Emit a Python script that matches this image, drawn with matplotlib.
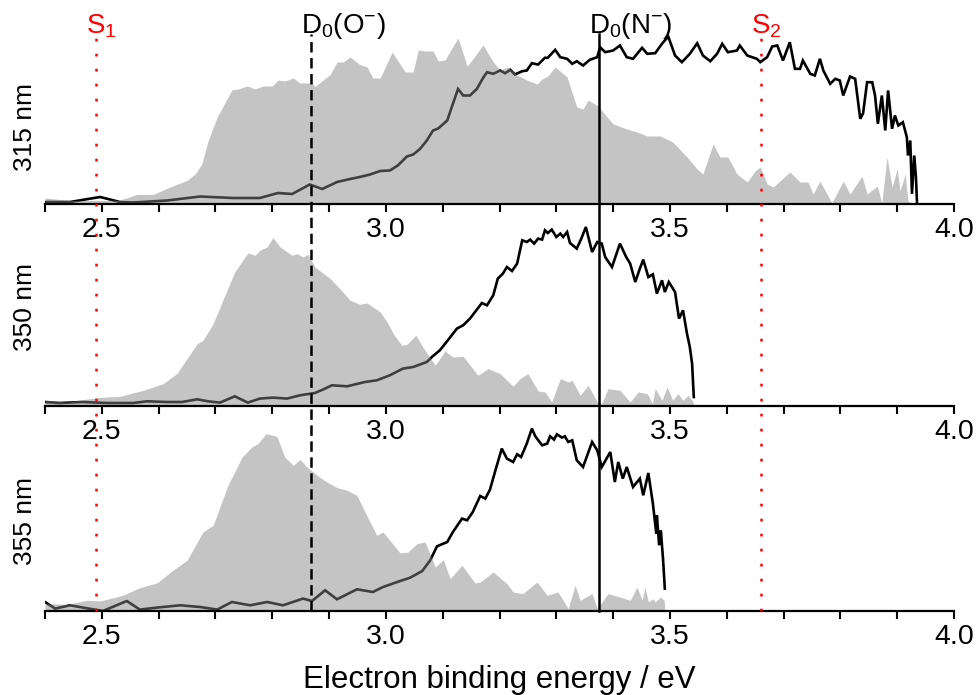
import numpy as np
import matplotlib
matplotlib.use("Agg")
import matplotlib.pyplot as plt
import matplotlib.transforms as mtransforms

plt.rcParams['font.family'] = ['Liberation Sans', 'DejaVu Sans']
plt.rcParams['mathtext.fontset'] = 'custom'
plt.rcParams['mathtext.rm'] = 'Liberation Sans'
plt.rcParams['mathtext.it'] = 'Liberation Sans:italic'
plt.rcParams['mathtext.bf'] = 'Liberation Sans:bold'
plt.rcParams['lines.scale_dashes'] = False

# ---------------- data (binding energy in eV, intensity in arb. units) ----------------
wavelengths = ["315 nm", "350 nm", "355 nm"]

grey_e_315 = [2.400, 2.444, 2.497, 2.532, 2.562, 2.590, 2.620, 2.650, 2.664, 2.676, 2.687, 2.703, 2.729, 2.740, 2.756, 2.770, 2.784, 2.800, 2.810, 2.822, 2.837, 2.849, 2.870, 2.875, 2.902, 2.914, 2.925, 2.937, 2.954, 2.967, 2.977, 2.990, 3.011, 3.034, 3.048, 3.057, 3.069, 3.083, 3.092, 3.104, 3.127, 3.143, 3.153, 3.171, 3.189, 3.201, 3.215, 3.231, 3.248, 3.266, 3.275, 3.285, 3.298, 3.319, 3.336, 3.347, 3.356, 3.373, 3.400, 3.424, 3.442, 3.460, 3.483, 3.505, 3.530, 3.548, 3.558, 3.576, 3.588, 3.602, 3.618, 3.636, 3.650, 3.659, 3.671, 3.682, 3.711, 3.729, 3.743, 3.752, 3.764, 3.785, 3.805, 3.817, 3.838, 3.847, 3.865, 3.873, 3.882, 3.891, 3.900, 3.905, 3.914, 3.919, 3.926]
grey_i_315 = [6, 3.5, 3.5, 4, 9.5, 9.5, 17, 23.5, 30, 40, 63, 87, 114, 115, 118, 115, 118, 118, 124, 123, 126, 121, 121, 117.5, 129.5, 142, 142, 147, 139.5, 137, 126, 126, 152, 132, 132, 154, 153, 153, 143, 144, 166, 138, 145, 159, 142, 134, 137, 129, 124, 120, 125, 128, 137, 127, 97, 95, 104, 98, 80, 75, 72, 68, 68, 62, 47, 35, 30, 60, 47, 47, 30, 22, 33, 37, 20, 17, 32, 22, 22, 10, 23, 1, 23, 10, 28, 10, 18, 1, 47, 17, 35, 13, 30, 3, 0]

black_e_315 = [2.400, 2.444, 2.497, 2.532, 2.555, 2.615, 2.673, 2.731, 2.778, 2.810, 2.835, 2.866, 2.888, 2.914, 2.937, 2.954, 2.972, 2.990, 3.007, 3.021, 3.037, 3.048, 3.060, 3.072, 3.083, 3.092, 3.108, 3.116, 3.127, 3.136, 3.148, 3.160, 3.171, 3.178, 3.189, 3.201, 3.210, 3.219, 3.227, 3.240, 3.248, 3.257, 3.268, 3.280, 3.285, 3.298, 3.307, 3.319, 3.328, 3.336, 3.347, 3.359, 3.372, 3.377, 3.386, 3.400, 3.412, 3.424, 3.435, 3.451, 3.460, 3.474, 3.486, 3.497, 3.509, 3.521, 3.535, 3.548, 3.558, 3.571, 3.583, 3.592, 3.602, 3.618, 3.623, 3.636, 3.653, 3.659, 3.671, 3.680, 3.689, 3.699, 3.711, 3.720, 3.729, 3.734, 3.747, 3.755, 3.764, 3.770, 3.782, 3.791, 3.799, 3.805, 3.817, 3.826, 3.835, 3.840, 3.847, 3.856, 3.861, 3.866, 3.873, 3.879, 3.884, 3.891, 3.896, 3.902, 3.910, 3.917, 3.919, 3.923, 3.926, 3.930, 3.933, 3.935]
black_i_315 = [2, 2, 7, 2, 1.5, 3.5, 7.5, 6, 6, 11, 10, 19.5, 15, 22, 25, 27, 29.5, 33, 33.5, 38.5, 47.5, 49.5, 55, 63.5, 73.5, 75.5, 83.5, 97, 115, 108.5, 108.5, 115, 126, 131.8, 130.2, 133.5, 130.8, 134.2, 129.5, 132.8, 133.5, 140.8, 139.5, 146.2, 146.2, 154.2, 146.8, 145.2, 140.2, 142.8, 138.5, 144.2, 146.8, 156.8, 151.8, 153.5, 158.5, 146.8, 145.2, 156.2, 150.2, 150.8, 160.2, 167.5, 148.5, 141.8, 150.2, 160.8, 148.5, 142.8, 150.2, 160.2, 151.8, 153.5, 158.5, 148.5, 145.2, 141.8, 146.8, 157.5, 158.5, 143.5, 161.8, 135.2, 135.2, 143.5, 130.2, 128.5, 145.2, 133.5, 120.2, 125.2, 123.5, 108.5, 127.5, 125.2, 85.2, 90.8, 121.8, 121.8, 108.5, 80.2, 108.5, 73.5, 113.5, 75.2, 88.5, 78.5, 81.8, 66.8, 48.5, 63.5, 10.2, 48.5, 26.8, 0]

grey_e_350 = [2.400, 2.439, 2.492, 2.532, 2.573, 2.608, 2.632, 2.668, 2.678, 2.696, 2.713, 2.734, 2.757, 2.770, 2.778, 2.791, 2.801, 2.814, 2.822, 2.835, 2.844, 2.854, 2.863, 2.875, 2.902, 2.919, 2.937, 2.954, 2.967, 2.990, 3.002, 3.013, 3.028, 3.037, 3.053, 3.065, 3.087, 3.104, 3.118, 3.136, 3.162, 3.180, 3.201, 3.224, 3.236, 3.250, 3.268, 3.280, 3.292, 3.307, 3.321, 3.328, 3.342, 3.356, 3.372, 3.380, 3.391, 3.412, 3.430, 3.444, 3.460, 3.469, 3.474, 3.486, 3.495, 3.505, 3.514, 3.523, 3.532, 3.541, 3.542]
grey_i_350 = [5.7, 4, 8.4, 9.7, 15.7, 22.4, 32.4, 62.4, 65.7, 82.4, 105.7, 134, 153, 150.7, 155.7, 159, 168.4, 159, 155.7, 150.7, 152.4, 149, 151.7, 139, 127.4, 117.4, 105.7, 101.7, 103, 94, 84, 72.4, 60.7, 61.7, 70.7, 59, 40.7, 55, 49, 49.7, 30.7, 37.4, 32.4, 19.7, 27.4, 32.4, 15, 14, 4, 27.4, 24, 25.7, 10.7, 20.7, 4, 2.4, 17.4, 15.7, 4, 14, 12.4, 2.4, 17.4, 5.7, 19, 5.7, 12.4, 5.7, 10.7, 4, 0]

black_e_350 = [2.400, 2.426, 2.467, 2.509, 2.555, 2.580, 2.615, 2.641, 2.668, 2.687, 2.708, 2.734, 2.757, 2.778, 2.801, 2.826, 2.849, 2.875, 2.889, 2.905, 2.932, 2.963, 2.984, 3.007, 3.030, 3.048, 3.072, 3.081, 3.095, 3.109, 3.125, 3.136, 3.148, 3.169, 3.178, 3.189, 3.197, 3.206, 3.213, 3.222, 3.231, 3.240, 3.248, 3.254, 3.261, 3.268, 3.275, 3.280, 3.285, 3.292, 3.300, 3.307, 3.312, 3.319, 3.324, 3.336, 3.344, 3.352, 3.363, 3.372, 3.380, 3.386, 3.398, 3.412, 3.423, 3.430, 3.439, 3.446, 3.453, 3.462, 3.470, 3.477, 3.486, 3.491, 3.498, 3.509, 3.516, 3.523, 3.530, 3.535, 3.539, 3.542]
black_i_350 = [4, 3, 4, 3, 3, 4.7, 4, 4, 6.7, 4.7, 3.4, 9.7, 3.4, 7.4, 8.4, 7.4, 10.7, 13, 16.4, 20.7, 19.7, 24, 25.7, 30.7, 37.4, 39, 44, 49, 55.7, 65.7, 77.4, 80.7, 87.4, 103, 100.7, 110.7, 127.4, 132.4, 139, 135, 142.4, 165.7, 164, 166.4, 162.4, 167.4, 166.4, 175.7, 173, 176.4, 169, 172.4, 169, 174, 163, 157.4, 167.4, 179, 154, 164, 162.4, 149, 139, 162.4, 149, 142.4, 124, 135.7, 146.4, 129, 131.7, 112.4, 125.7, 114, 124, 114, 87.4, 95.7, 72.4, 59, 42.4, 9]

grey_e_355 = [2.400, 2.439, 2.474, 2.497, 2.537, 2.567, 2.597, 2.625, 2.650, 2.678, 2.696, 2.722, 2.747, 2.764, 2.775, 2.789, 2.808, 2.822, 2.837, 2.849, 2.861, 2.879, 2.896, 2.914, 2.932, 2.949, 2.969, 2.984, 2.995, 3.025, 3.039, 3.055, 3.069, 3.087, 3.101, 3.113, 3.134, 3.157, 3.166, 3.189, 3.213, 3.224, 3.241, 3.266, 3.284, 3.303, 3.321, 3.333, 3.342, 3.363, 3.372, 3.391, 3.412, 3.430, 3.442, 3.451, 3.456, 3.462, 3.470, 3.474, 3.483, 3.490, 3.491]
grey_i_355 = [7.4, 6.7, 10.7, 10, 15.7, 23.4, 28, 40.7, 50.7, 79, 85.7, 125.7, 154, 164, 167.4, 177.4, 174.7, 154, 145.7, 151.4, 144, 135.7, 129, 123.4, 120.7, 115.7, 92.4, 75.7, 79, 58, 59, 67.4, 69, 44, 51.4, 32.4, 45.7, 28, 29, 39, 27.4, 19, 17.4, 29, 15.7, 19, 2.4, 25.7, 10.7, 17.4, 2.4, 17.4, 14, 10.7, 24, 10.7, 24, 9, 12.4, 9, 14, 10.7, 0]

black_e_355 = [2.400, 2.418, 2.444, 2.467, 2.502, 2.544, 2.567, 2.597, 2.638, 2.673, 2.703, 2.729, 2.761, 2.791, 2.819, 2.854, 2.870, 2.893, 2.914, 2.949, 2.977, 2.995, 3.020, 3.043, 3.064, 3.078, 3.090, 3.108, 3.118, 3.134, 3.143, 3.153, 3.166, 3.175, 3.183, 3.192, 3.204, 3.213, 3.224, 3.231, 3.238, 3.248, 3.257, 3.263, 3.275, 3.284, 3.289, 3.296, 3.301, 3.310, 3.315, 3.321, 3.328, 3.336, 3.347, 3.363, 3.372, 3.380, 3.395, 3.403, 3.409, 3.417, 3.424, 3.435, 3.447, 3.453, 3.462, 3.470, 3.476, 3.477, 3.481, 3.484, 3.488, 3.491]
black_i_355 = [9, 2.4, 5.7, 3.4, 0, 10, 1.4, 3.4, 5.7, 4, 1.4, 9, 5.7, 9, 5.7, 12.4, 10, 20.7, 11.7, 21.7, 19, 24, 29, 33.4, 40, 50.7, 64.7, 69, 79, 92.4, 90.7, 99, 115, 112.4, 121, 139, 162.4, 152.4, 149, 156.7, 154, 167.4, 182.4, 174.7, 165.7, 167.4, 174.7, 171.4, 176.7, 173.4, 174.7, 169, 170.7, 150.7, 144, 169, 160.7, 144, 159, 129, 149, 132.4, 144, 124, 132.4, 115.7, 138, 107.4, 77.4, 95.7, 65.7, 80.7, 50.7, 22.4]

# reference energies (eV)
ref_labels = [r"$\mathregular{S_1}$", r"$\mathregular{D_0(O^{-})}$", r"$\mathregular{D_0(N^{-})}$", r"$\mathregular{S_2}$"]
ref_energies = [2.49, 2.868, 3.376, 3.66]
ref_colors = ["#ff0000", "black", "black", "#ff0000"]
ref_styles = [(0, (2.0, 8.8)), (0, (7.5, 4.0)), "-", (0, (2.0, 8.8))]

x_min, x_max = 2.4, 4.0
major_ticks = [2.5, 3.0, 3.5, 4.0]
minor_ticks = np.round(np.arange(2.4, 4.0001, 0.1), 2)

panels = [
    (grey_e_315, grey_i_315, black_e_315, black_i_315),
    (grey_e_350, grey_i_350, black_e_350, black_i_350),
    (grey_e_355, grey_i_355, black_e_355, black_i_355),
]

# ---------------- layout ----------------
W, H = 979, 695
fig = plt.figure(figsize=(W / 100, H / 100), dpi=100)
left = 45 / W
width = 909 / W
baselines_px = [204, 406, 611]
panel_h = 200 / H
ylabel_y_px = [127, 307, 521]

axes = []
for k, (ge, gi, be, bi) in enumerate(panels):
    ax = fig.add_axes([left, (H - baselines_px[k]) / H, width, panel_h])
    ax.patch.set_alpha(0)
    ax.plot(be, bi, color="black", lw=1.9, zorder=2, solid_joinstyle="miter")
    ax.fill_between(ge, 0, gi, color="#858585", alpha=0.48, lw=0, zorder=3)
    ax.set_xlim(x_min, x_max)
    ax.set_ylim(0, 200)
    for s in ["left", "right", "top"]:
        ax.spines[s].set_visible(False)
    ax.spines["bottom"].set_linewidth(1.6)
    ax.spines["bottom"].set_zorder(4)
    ax.set_yticks([])
    ax.set_xticks(major_ticks)
    ax.set_xticks(minor_ticks, minor=True)
    ax.set_xticklabels(["2.5", "3.0", "3.5", "4.0"])
    ax.tick_params(axis="x", which="both", direction="out", length=5.5, width=1.5,
                   labelsize=20.5, pad=4)
    fig.text(25 / W, 1 - ylabel_y_px[k] / H, wavelengths[k], rotation=90,
             ha="center", va="center", fontsize=19)
    axes.append(ax)

axes[-1].set_xlabel("Electron binding energy / eV", fontsize=22.5, labelpad=11)

# overlay for reference lines
top_px = 34
ov = fig.add_axes([left, (H - baselines_px[-1]) / H, width, (baselines_px[-1] - top_px) / H])
ov.set_xlim(x_min, x_max)
ov.set_ylim(0, 1)
ov.axis("off")
ov.patch.set_alpha(0)
trans = mtransforms.blended_transform_factory(ov.transData, ov.transAxes)
for lab, e, c, ls in zip(ref_labels, ref_energies, ref_colors, ref_styles):
    ov.plot([e, e], [0, 1], transform=trans, color=c, linestyle=ls, lw=1.8,
            clip_on=False)
    t = mtransforms.offset_copy(trans, fig=fig, x=-7.2, y=0.5, units="points")
    ov.text(e, 1.0, lab, transform=t, color=c, ha="left", va="baseline",
            fontsize=20)

fig.savefig("out.png", dpi=100)
